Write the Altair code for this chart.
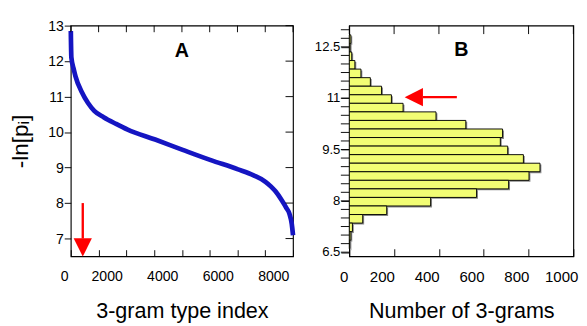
import altair as alt
import pandas as pd

# ---------------- data ----------------
# Panel A: -ln p_i of 3-gram types, ordered by type index
type_index = [0, 20, 112, 169, 394, 619, 844, 1181, 1631, 2047, 3037, 4027,
              5039, 6018, 6580, 7008, 7200, 7368, 7593, 7762, 7874, 7953, 8000]
neg_ln_p = [12.85, 12.10, 11.75, 11.57, 11.13, 10.82, 10.60, 10.42, 10.23, 10.07, 9.79, 9.50,
            9.21, 8.95, 8.78, 8.60, 8.47, 8.33, 8.08, 7.86, 7.69, 7.42, 7.09]

# Panel B: histogram of -ln p_i (bin lower edge, bin upper edge, count)
bin_low = [12.60, 12.35, 12.10, 11.85, 11.60, 11.35, 11.10, 10.85, 10.60, 10.35, 10.10, 9.85,
           9.60, 9.35, 9.10, 8.85, 8.60, 8.35, 8.10, 7.85, 7.60, 7.35, 7.10, 6.85, 6.60]
bin_high = [12.85, 12.60, 12.35, 12.10, 11.85, 11.60, 11.35, 11.10, 10.85, 10.60, 10.35, 10.10,
            9.85, 9.60, 9.35, 9.10, 8.85, 8.60, 8.35, 8.10, 7.85, 7.60, 7.35, 7.10, 6.85]
bin_count = [7, 4, 11, 25, 52, 94, 144, 188, 240, 387, 520, 684,
             674, 707, 777, 851, 802, 711, 568, 363, 167, 60, 14, 7, 3]

# axis ticks / labels
a_x_ticks = [0, 1000, 2000, 3000, 4000, 5000, 6000, 7000, 8000]
a_y_ticks = [7, 8, 9, 10, 11, 12, 13]
b_x_ticks = [0, 200, 400, 600, 800, 1000]
b_y_ticks = [6.5, 6.75, 7.0, 7.25, 7.5, 7.75, 8.0, 8.25, 8.5, 8.75, 9.0, 9.25, 9.5, 9.75,
             10.0, 10.25, 10.5, 10.75, 11.0, 11.25, 11.5, 11.75, 12.0, 12.25, 12.5, 12.75, 13.0]
b_y_labels = [6.5, 8.0, 9.5, 11.0, 12.5]

# annotations
arrow_a = {"x": [430], "top": [8.0], "base": [7.0], "head": [6.75]}
arrow_b = {"y": [11.03], "tail": [480], "base": [329], "head": [288]}
label_a = {"x": [4000], "y": [12.28], "t": ["A"]}
label_b = {"x": [500], "y": [12.41], "t": ["B"]}

# ---------------- chart ----------------
FONT = "Liberation Sans"
A_W, A_H = 237, 246
B_W, B_H = 239, 246
RED = "#ff0000"

xA = alt.Scale(domain=[0, 8000], nice=False, zero=False)
yA = alt.Scale(domain=[6.5, 13], nice=False, zero=False)
xB = alt.Scale(domain=[0, 1000], nice=False, zero=False)
yB = alt.Scale(domain=[6.38, 13.12], nice=False, zero=False)

dfA = pd.DataFrame({"idx": type_index, "v": neg_ln_p})

line = alt.Chart(dfA).mark_line(color="#1515c2", strokeWidth=5, interpolate="monotone").encode(
    x=alt.X("idx:Q", scale=xA, axis=alt.Axis(
        values=a_x_ticks, format="d",
        labelExpr="datum.value % 2000 == 0 ? datum.label : ''",
        labelOffset={"condition": {"test": "datum.value == 0", "value": -7}, "value": -21},
        labelOverlap=False, labelFlush=False, labelBound=False,
        tickSize={"expr": "-7"}, labelPadding=21, labelFontSize=15,
        title="3-gram type index", titleFontSize=23, titlePadding=18,
        domain=False, grid=False)),
    y=alt.Y("v:Q", scale=yA, axis=alt.Axis(
        values=a_y_ticks, tickSize=7, labelPadding=1, labelFontSize=15,
        labelOverlap=False, labelFlush=False, labelBound=False,
        title="-ln[pᵢ]", titleFontSize=24, titlePadding=17,
        domain=False, grid=False)),
)

# mirror ticks of panel A (top and right edges, pointing inward)
topA = alt.Chart(pd.DataFrame({"t": a_x_ticks})).mark_rule(color="black", strokeWidth=1).encode(
    x=alt.X("t:Q", scale=xA, axis=None), y=alt.value(0), y2=alt.value(7))
rightA = alt.Chart(pd.DataFrame({"t": a_y_ticks})).mark_rule(color="black", strokeWidth=1).encode(
    y=alt.Y("t:Q", scale=yA, axis=None), x=alt.value(A_W - 8), x2=alt.value(A_W))

dfArA = pd.DataFrame(arrow_a)
shaftA = alt.Chart(dfArA).mark_rule(color=RED, strokeWidth=2.5).encode(
    x=alt.X("x:Q", scale=xA, axis=None),
    y=alt.Y("top:Q", scale=yA, axis=None),
    y2="base:Q",
)
headA = alt.Chart(dfArA).mark_point(
    shape="M-1,-1L1,-1L0,1Z", filled=True, color=RED, opacity=1, size=380, strokeWidth=0
).encode(
    x=alt.X("x:Q", scale=xA, axis=None),
    y=alt.Y("head:Q", scale=yA, axis=None),
)
textA = alt.Chart(pd.DataFrame(label_a)).mark_text(
    font=FONT, fontSize=21, fontWeight="bold", color="black"
).encode(
    x=alt.X("x:Q", scale=xA, axis=None),
    y=alt.Y("y:Q", scale=yA, axis=None),
    text="t:N",
)

panelA = alt.layer(line, topA, rightA, shaftA, headA, textA).resolve_axis(
    x="independent", y="independent"
).properties(width=A_W, height=A_H)

dfB = pd.DataFrame({"lo": bin_low, "hi": bin_high, "n": bin_count})

shadow = alt.Chart(dfB).mark_rect(
    fill="#8a8a8a", xOffset=1.5, x2Offset=1.5, yOffset=1.5, y2Offset=1.5
).encode(
    x=alt.X("n:Q", scale=xB, axis=None),
    x2=alt.datum(0),
    y=alt.Y("lo:Q", scale=yB, axis=None),
    y2="hi:Q",
)

bars = alt.Chart(dfB).mark_rect(
    fill="#f2fd74", stroke="black", strokeWidth=1
).encode(
    x=alt.X("n:Q", scale=xB, axis=alt.Axis(
        values=b_x_ticks, format="d",
        labelOffset={"condition": {"test": "datum.value == 0", "value": -6}, "value": -13},
        labelOverlap=False, labelFlush=False, labelBound=False,
        tickSize={"expr": "-8"}, labelPadding=22, labelFontSize=16,
        title="Number of 3-grams", titleFontSize=23, titlePadding=17,
        domain=False, grid=False)),
    x2=alt.datum(0),
    y=alt.Y("lo:Q", scale=yB, axis=alt.Axis(
        values=b_y_labels, format=".1~f",
        labelOverlap=False, labelFlush=False, labelBound=False,
        tickSize=9, labelPadding=1, labelFontSize=14,
        title=None, domain=False, grid=False)),
    y2="hi:Q",
)

# minor ticks on the left edge of B and mirror ticks on its top edge
leftB = alt.Chart(pd.DataFrame({"t": b_y_ticks})).mark_rule(color="black", strokeWidth=1).encode(
    y=alt.Y("t:Q", scale=yB, axis=None), x=alt.value(-9), x2=alt.value(0))
topB = alt.Chart(pd.DataFrame({"t": b_x_ticks})).mark_rule(color="black", strokeWidth=1).encode(
    x=alt.X("t:Q", scale=xB, axis=None), y=alt.value(0), y2=alt.value(9))

dfArB = pd.DataFrame(arrow_b)
shaftB = alt.Chart(dfArB).mark_rule(color=RED, strokeWidth=2.5).encode(
    x=alt.X("tail:Q", scale=xB, axis=None),
    x2="base:Q",
    y=alt.Y("y:Q", scale=yB, axis=None),
)
headB = alt.Chart(dfArB).mark_point(
    shape="M1,-1L1,1L-1,0Z", filled=True, color=RED, opacity=1, size=380, strokeWidth=0
).encode(
    x=alt.X("head:Q", scale=xB, axis=None),
    y=alt.Y("y:Q", scale=yB, axis=None),
)
textB = alt.Chart(pd.DataFrame(label_b)).mark_text(
    font=FONT, fontSize=21, fontWeight="bold", color="black"
).encode(
    x=alt.X("x:Q", scale=xB, axis=None),
    y=alt.Y("y:Q", scale=yB, axis=None),
    text="t:N",
)

panelB = alt.layer(shadow, bars, leftB, topB, shaftB, headB, textB).resolve_axis(
    x="independent", y="independent"
).properties(width=B_W, height=B_H)

chart = alt.hconcat(panelA, panelB, spacing=11).properties(
    padding={"left": 0, "top": 0, "right": 0, "bottom": 0}
).configure_view(
    stroke="black", strokeWidth=1.2
).configure_axis(
    labelFont=FONT, titleFont=FONT, labelColor="black", titleColor="black",
    tickColor="black", tickWidth=1, titleFontWeight="normal"
)

chart.save("out.html", embed_options={"renderer": "svg", "actions": False})
